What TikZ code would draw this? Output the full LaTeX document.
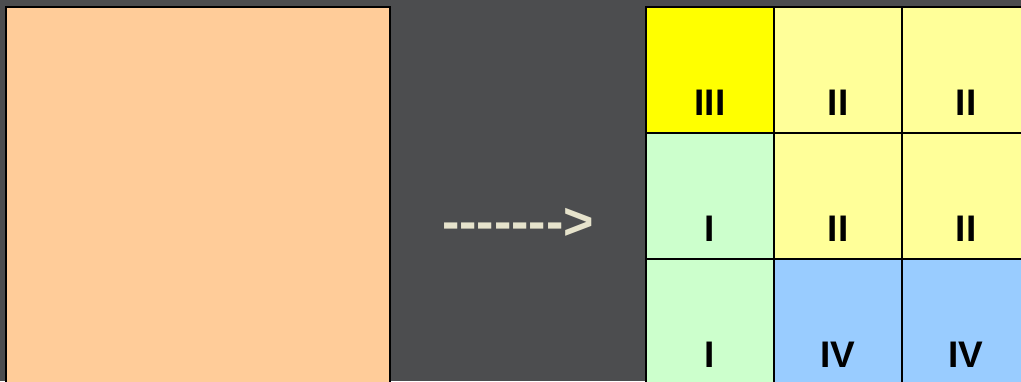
\documentclass[tikz,border=0pt]{standalone}
\usepackage{fontspec}
\setmainfont{Liberation Sans}
\newfontfamily\arrowfont{Liberation Sans}[Ligatures=TeXOff]
\definecolor{bg}{HTML}{4C4D4F}
\definecolor{orangefill}{HTML}{FFCC99}
\definecolor{yel}{HTML}{FFFF00}
\definecolor{lyel}{HTML}{FFFF99}
\definecolor{lgreen}{HTML}{CCFFCC}
\definecolor{lblue}{HTML}{99CCFF}
\definecolor{arrowtxt}{HTML}{E6E3CC}
\begin{document}
\begin{tikzpicture}[x=1pt,y=-1pt,
  cell/.style={draw=black,line width=2pt,minimum width=128pt,minimum height=126pt,inner sep=0pt,anchor=north west},
  lbl/.style={anchor=base,font=\fontsize{37}{40}\selectfont\bfseries,inner sep=0pt}]
\useasboundingbox (0,0) rectangle (1021,381);
\fill[bg] (0,0) rectangle (1021,381);
\node[draw=black,line width=2pt,fill=orangefill,minimum width=384pt,minimum height=390pt,inner sep=0pt,anchor=north west] (src) at (5,6) {};
\node[anchor=base,text=arrowtxt,font=\arrowfont\bfseries\fontsize{52}{56}\selectfont,inner sep=0pt] (arr) at (518,239) {------->};
% grid
\node[cell,fill=yel] (c11) at (645,6) {};
\node[cell,fill=lyel] (c12) at (773,6) {};
\node[cell,fill=lyel] (c13) at (901,6) {};
\node[cell,fill=lgreen] (c21) at (645,132) {};
\node[cell,fill=lyel] (c22) at (773,132) {};
\node[cell,fill=lyel] (c23) at (901,132) {};
\node[cell,fill=lgreen] (c31) at (645,258) {};
\node[cell,fill=lblue] (c32) at (773,258) {};
\node[cell,fill=lblue] (c33) at (901,258) {};
\node[lbl] (t11) at ([yshift=18.5pt]c11.south) {III};
\node[lbl] (t12) at ([yshift=18.5pt]c12.south) {II};
\node[lbl] (t13) at ([yshift=18.5pt]c13.south) {II};
\node[lbl] (t21) at ([yshift=18.5pt]c21.south) {I};
\node[lbl] (t22) at ([yshift=18.5pt]c22.south) {II};
\node[lbl] (t23) at ([yshift=18.5pt]c23.south) {II};
\node[lbl] (t31) at ([yshift=18.5pt]c31.south) {I};
\node[lbl] (t32) at ([yshift=18.5pt]c32.south) {IV};
\node[lbl] (t33) at ([yshift=18.5pt]c33.south) {IV};
\end{tikzpicture}
\end{document}
